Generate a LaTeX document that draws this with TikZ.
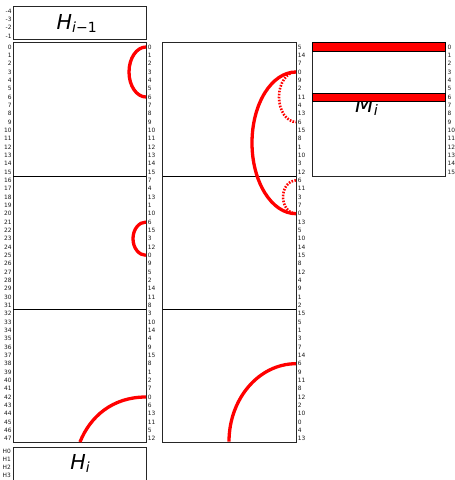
\documentclass[tikz,border=0pt]{standalone}
\usepackage{fontspec}
\setmainfont{DejaVu Sans}
\begin{document}
\begin{tikzpicture}[x=1pt,y=1pt,
  box/.style={draw=black!85, line width=1pt},
  divider/.style={draw=black, line width=1pt},
  lbl/.style={font=\fontsize{5.9}{6}\selectfont, inner sep=0pt, text=black!90},
  solidarc/.style={draw=red, line width=3.3pt},
  dotarc/.style={draw=red, line width=2.6pt, dash pattern=on 1.6pt off 1.4pt},
  bigtext/.style={inner sep=0pt, anchor=base west},
  redbar/.style={fill=red, draw=black, line width=0.9pt}
]
\useasboundingbox (0,0) rectangle (455,-480);
% boxes
\draw[box] (13.3,-6) rectangle (146,-39.3);
\draw[box] (13.3,-42.8) rectangle (146,-442.8);
\draw[box] (162.7,-42.8) rectangle (296,-442.8);
\draw[box] (312.7,-42.8) rectangle (445.3,-176.2);
\draw[box] (13.3,-484) -- (13.3,-447.3) -- (146,-447.3) -- (146,-484);
\draw[divider] (13.3,-176.2) -- (146,-176.2);
\draw[divider] (13.3,-309.5) -- (146,-309.5);
\draw[divider] (162.7,-176.2) -- (296,-176.2);
\draw[divider] (162.7,-309.5) -- (296,-309.5);
% big texts
\node[bigtext] (hprev) at (56.5,-29) {\fontsize{20.6}{21}\selectfont\itshape H\raisebox{-3.3pt}{\fontsize{14}{14}\selectfont\itshape i\upshape −1}};
\node[bigtext] (hcur) at (70.2,-469) {\fontsize{20.6}{21}\selectfont\itshape H\raisebox{-3.3pt}{\fontsize{14}{14}\selectfont\itshape i}};
\node[bigtext] (mi) at (355,-112.3) {\fontsize{21.5}{22}\selectfont\itshape M\raisebox{-3.3pt}{\fontsize{14.5}{15}\selectfont\itshape i}};
% red bars in M
\draw[redbar] (312.7,-42.8) rectangle (445.3,-51.2);
\draw[redbar] (312.7,-93.0) rectangle (445.3,-101.3);
% labels
\foreach \v [count=\r from 0] in {-4,-3,-2,-1}
  \node[lbl, anchor=east] (hl\r) at (11.8,{-(11+\r*8.33)}) {\v};
\foreach \v [count=\r from 0] in {H0,H1,H2,H3}
  \node[lbl, anchor=east] (hil\r) at (11,{-(451.7+\r*7.8)}) {\v};
\foreach \r in {0,...,47}
  \node[lbl, anchor=east] (ll\r) at (11.8,{-(47+\r*8.3333)}) {\r};
\foreach \v [count=\r from 0] in {0,1,2,3,4,5,6,7,8,9,10,11,12,13,14,15,7,4,13,1,10,6,15,3,12,0,9,5,2,14,11,8,3,10,14,4,9,15,8,1,2,7,0,6,13,11,5,12}
  \node[lbl, anchor=west] (lr\r) at (147.6,{-(47+\r*8.3333)}) {\v};
\foreach \v [count=\r from 0] in {5,14,7,0,9,2,11,4,13,6,15,8,1,10,3,12,6,11,3,7,0,13,5,10,14,15,8,12,4,9,1,2,15,5,1,3,7,14,6,9,11,8,12,2,10,0,4,13}
  \node[lbl, anchor=west] (mr\r) at (297.6,{-(47+\r*8.3333)}) {\v};
\foreach \r in {0,...,15}
  \node[lbl, anchor=west] (kr\r) at (447.4,{-(47+\r*8.3333)}) {\r};
% curve points
\coordinate (la) at (146,-47);
\coordinate (lb) at (146,-222);
\coordinate (lc) at (146,-397);
\coordinate (lcend) at (80,-442);
\coordinate (ma) at (296,-72);
\coordinate (mb) at (296,-180.3);
\coordinate (mc) at (296,-363.7);
% curves
\draw[solidarc] (la) arc[start angle=90, end angle=270, x radius=17pt, y radius=25pt];
\draw[solidarc] (lb) arc[start angle=90, end angle=270, x radius=13pt, y radius=16.67pt];
\draw[solidarc] (lc) .. controls (112,-397) and (90,-417) .. (lcend);
\draw[solidarc] (ma) arc[start angle=90, end angle=270, x radius=44pt, y radius=70.85pt];
\draw[dotarc] (ma) arc[start angle=90, end angle=270, x radius=17pt, y radius=25pt];
\draw[dotarc] (mb) arc[start angle=90, end angle=270, x radius=13pt, y radius=16.67pt];
\draw[solidarc] (mc) arc[start angle=90, end angle=180, x radius=67pt, y radius=78pt];
\end{tikzpicture}
\end{document}
